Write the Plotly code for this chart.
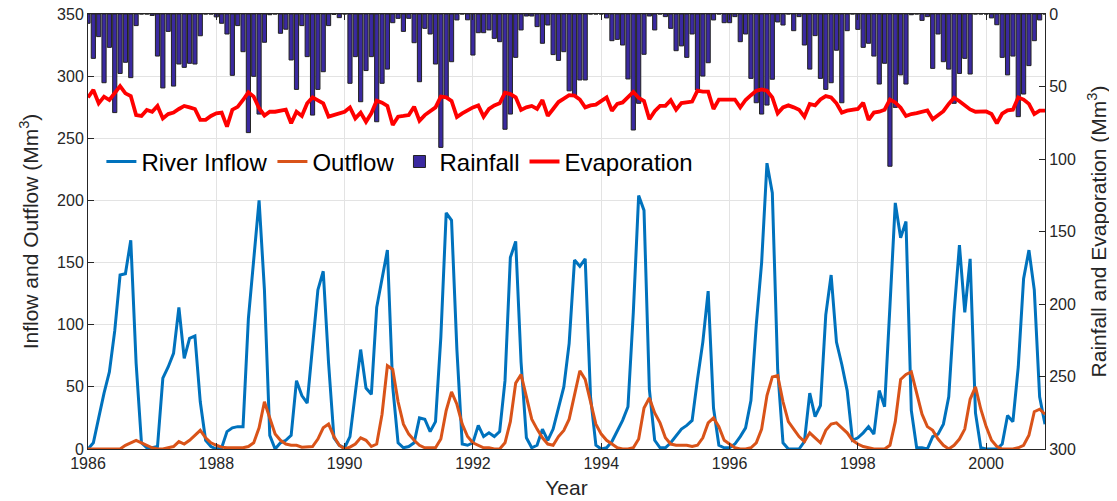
import plotly.graph_objects as go

# monthly data, Jan 1986 - Dec 2000
years = list(range(1986, 2001))
time = [y + m / 12 for y in years for m in range(12)]

inflow = [
    0, 5, 25, 45, 62, 95, 140, 141, 168, 69, 5, 1,          # 1986
    1, 2, 57, 66, 77, 114, 73, 89, 91, 38, 7, 2,            # 1987
    0, 1, 14, 17, 18, 18, 105, 150, 200, 128, 11, 0,        # 1988
    5, 7, 11, 55, 43, 37, 85, 128, 143, 69, 9, 3,           # 1989
    1, 10, 45, 80, 49, 44, 114, 137, 160, 50, 5, 1,         # 1990
    2, 5, 25, 24, 14, 22, 90, 190, 184, 80, 4, 3,           # 1991
    5, 19, 10, 13, 10, 14, 55, 154, 167, 70, 9, 1,          # 1992
    3, 16, 7, 16, 34, 50, 85, 152, 147, 153, 42, 3,         # 1993
    0, 1, 6, 15, 23, 34, 110, 204, 192, 48, 7, 1,           # 1994
    1, 5, 11, 16, 19, 23, 56, 86, 127, 33, 3, 1,            # 1995
    1, 4, 10, 17, 39, 100, 150, 230, 206, 64, 5, 0,         # 1996
    0, 0, 6, 45, 26, 35, 108, 140, 86, 68, 47, 7,           # 1997
    9, 13, 18, 12, 47, 34, 115, 198, 170, 183, 31, 1,       # 1998
    1, 0, 10, 12, 20, 42, 110, 164, 110, 153, 29, 1,        # 1999
    0, 0, 0, 4, 27, 22, 66, 137, 160, 128, 42, 20,          # 2000
]

outflow = [
    0, 0, 0, 0, 0, 0, 0, 3, 5, 7, 5, 3,
    1, 0, 0, 1, 2, 6, 4, 7, 11, 15, 9, 5,
    3, 1.5, 1, 1, 1, 1, 2, 5, 17, 38, 25, 12,
    7, 4, 3, 3, 1.5, 1.5, 2, 8, 17, 20, 10, 3,
    0, 1.5, 4, 9, 7, 2, 4, 28, 67, 64, 38, 20,
    12, 7, 3, 1, 1, 1, 8, 31, 46, 36, 20, 10,
    5, 3, 1, 1, 0, 0, 5, 22, 53, 60, 42, 24,
    16, 9, 4, 3, 10, 15, 24, 45, 63, 56, 37, 20,
    12, 7, 4, 1, 0, 0, 1, 8, 33, 41, 29, 21,
    9, 4, 3, 3, 3, 2, 3, 9, 21, 25, 18, 7,
    4, 1, 0, 0, 1, 5, 16, 43, 58, 59, 38, 22,
    16, 10, 6, 13, 9, 5, 15, 20, 21, 17, 13, 7,
    4, 2, 1, 0, 0, 0, 3, 22, 56, 60, 62, 44,
    28, 18, 15, 8, 3, 0, 3, 8, 16, 40, 50, 32,
    18, 7, 2, 0, 0, 0, 1, 3, 11, 30, 32, 28,
]

rainfall = [
    6.4, 30.6, 15.6, 47.4, 23, 68, 41, 33.3, 43.9, 8, 0, 0,
    1, 29, 51, 12, 49.7, 34.5, 36.8, 34, 34.5, 15, 0, 0,
    2, 6.4, 13.8, 42.3, 8, 26, 81.8, 43, 69, 19.5, 0.5, 0,
    13.3, 10.5, 31.7, 52, 8, 29.4, 69.7, 52, 39.8, 8, 0.3, 2.5,
    0, 47.8, 29.4, 60.5, 39, 29.4, 74.3, 47.8, 38, 6, 3, 12,
    3, 19.8, 46.7, 9.9, 13.8, 34.5, 92, 57.5, 32.9, 4.1, 0, 4,
    28.3, 12.9, 12.9, 11, 16.8, 19.1, 79.5, 69, 29.9, 11, 1.4, 1.4,
    8.7, 20.2, 7.6, 28, 32, 26, 53, 56, 45.5, 45.5, 0, 0,
    0, 2.7, 18.4, 17.5, 21.4, 44.8, 80, 61.6, 27.8, 1.4, 11, 0,
    1.8, 9.9, 25.3, 22, 29.9, 13.8, 52.4, 42.8, 33.6, 4.1, 0, 6,
    6, 1.8, 19.1, 13.8, 44.4, 61.2, 69, 62.8, 45, 5.5, 7.6, 0,
    11.5, 1.8, 21.4, 38, 14.9, 44.4, 52, 47.4, 25, 61.2, 11.5, 0,
    10.6, 23, 20.2, 29, 48.3, 34, 105, 64.4, 42, 48.3, 0.5, 0,
    4.4, 1.8, 37.5, 13.8, 32.9, 38, 61.6, 41, 30.6, 41.4, 0, 0,
    0, 2.7, 7.4, 29.9, 42, 29, 70.8, 55.2, 35.6, 18.4, 4.1, 0,
]

evaporation = [
    57.5, 52.4, 61.6, 57, 59.3, 54.3, 49.7, 54.7, 56.6, 69.7, 70.3, 66.2,
    67.4, 63.4, 72, 69, 68, 65.5, 63.4, 64.4, 65.5, 73, 73, 70.3,
    68.5, 68, 77.7, 66, 64, 59.3, 54, 57, 65, 70, 67.4, 67.4,
    67, 66, 75.4, 67.4, 70.3, 61.6, 57.5, 59.3, 61.6, 70.8, 69.7, 68.5,
    67.4, 64.4, 72, 68, 74.3, 68.5, 59.8, 61.2, 63.4, 76.6, 70.8, 70.3,
    69.7, 63.9, 73.6, 69.7, 67.4, 64.4, 57, 57.5, 60, 71, 68.5, 66.2,
    64.4, 63, 70.8, 65.5, 63, 61.6, 54.3, 55.2, 57.5, 66.2, 64.4, 63.4,
    65.5, 59.3, 70.3, 65.5, 60.7, 58.4, 56, 56.3, 59, 64.4, 63, 62.5,
    59.8, 57.5, 66.7, 62, 61, 57.8, 53.8, 57.8, 60, 72.6, 67, 63.4,
    63.4, 59.5, 66, 61.4, 60.7, 60.4, 52.9, 53.6, 53.6, 65.5, 59, 58.9,
    58.9, 59, 64.4, 59.3, 56, 53, 52, 52.9, 57.5, 68.5, 64.4, 63,
    64.4, 66, 70.8, 62, 63, 58.9, 56.6, 57.5, 61.6, 68, 66.7, 66.2,
    65.5, 61.2, 73, 68, 67.4, 66, 59, 61, 64.6, 70.3, 69, 68.4,
    67.4, 66.5, 72.6, 69.5, 67, 62, 57.7, 60.2, 63.3, 65.8, 67.4, 67.4,
    67.2, 69, 75.4, 68.7, 66.5, 66, 57.5, 59, 62, 69, 66.7, 66.7,
]

FONT = "Liberation Sans, Arial, sans-serif"
AXIS = "#262626"

fig = go.Figure()
fig.add_trace(go.Scatter(x=time, y=inflow, mode="lines", name="River Inflow",
                         line=dict(color="#0072BD", width=3)))
fig.add_trace(go.Scatter(x=time, y=outflow, mode="lines", name="Outflow",
                         line=dict(color="#D95319", width=3)))
fig.add_trace(go.Bar(x=time, y=rainfall, name="Rainfall", yaxis="y2",
                     width=0.065, marker=dict(color="#3A29A0",
                                              line=dict(color="#222222", width=1))))
fig.add_trace(go.Scatter(x=time, y=evaporation, mode="lines", name="Evaporation",
                         yaxis="y2", line=dict(color="#FF0000", width=3.8)))

# page body adds an 8px margin, so the figure is sized to the window minus that
fig.update_layout(
    width=1109, height=493,
    margin=dict(l=80, r=72, t=6, b=52),
    paper_bgcolor="white", plot_bgcolor="white",
    font=dict(family=FONT, color=AXIS, size=16),
    showlegend=True,
    legend=dict(orientation="h", x=0.014, y=0.66, xanchor="left", yanchor="middle",
                bgcolor="rgba(255,255,255,0)", font=dict(size=24, color="#000000"),
                itemwidth=30, tracegroupgap=0),
    xaxis=dict(range=[1986, 2000.917], tickmode="linear", tick0=1986, dtick=2,
               showgrid=True, gridcolor="#e3e3e3", gridwidth=1,
               ticks="inside", ticklen=6, tickcolor=AXIS,
               showline=True, linecolor=AXIS, linewidth=1, mirror="ticks",
               zeroline=False, tickfont=dict(size=16), automargin=False,
               title=dict(text="Year", font=dict(size=21), standoff=9)),
    yaxis=dict(range=[0, 350], tickmode="linear", tick0=0, dtick=50,
               showgrid=True, gridcolor="#e3e3e3", gridwidth=1,
               ticks="inside", ticklen=6, tickcolor=AXIS,
               showline=True, linecolor=AXIS, linewidth=1,
               zeroline=False, tickfont=dict(size=16), automargin=False,
               ticklabeloverflow="allow",
               title=dict(text="Inflow and Outflow (Mm<sup>3</sup>)",
                          font=dict(size=21), standoff=12)),
    yaxis2=dict(range=[300, 0], overlaying="y", side="right", tickmode="linear",
                tick0=0, dtick=50, showgrid=False,
                ticks="inside", ticklen=6, tickcolor=AXIS,
                showline=True, linecolor=AXIS, linewidth=1,
                zeroline=False, tickfont=dict(size=16), automargin=False,
                ticklabeloverflow="allow",
                title=dict(text="Rainfall and Evaporation (Mm<sup>3</sup>)",
                           font=dict(size=21), standoff=16)),
)

fig.write_html("out.html")
